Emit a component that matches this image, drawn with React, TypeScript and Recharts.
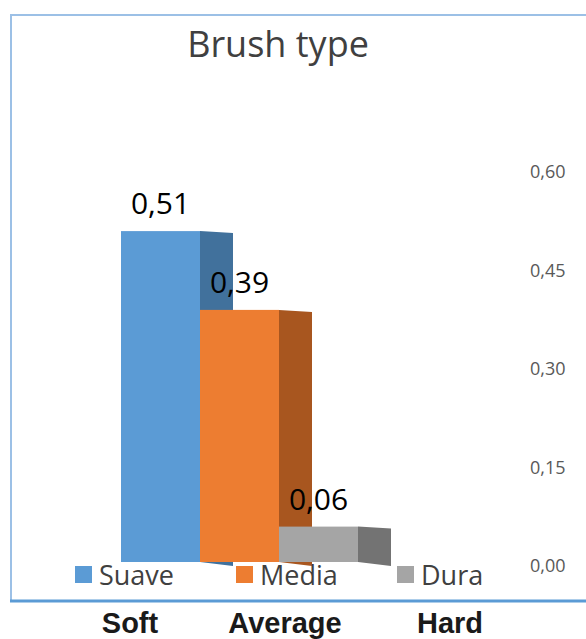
import { BarChart, Bar, XAxis, YAxis, Legend, LabelList } from 'recharts'

const categories = ['Brush type']
const series = ['Suave', 'Media', 'Dura']
const values = [0.51, 0.39, 0.06]
const yTicks = [0, 0.15, 0.3, 0.45, 0.6]
const captions = ['Soft', 'Average', 'Hard']

const FRONT = ['#5b9bd5', '#ed7d31', '#a5a5a5']
const SIDE = ['#41719c', '#a8561f', '#737373']
const CAPTION_X = [130, 285, 450]

const data = categories.map((name) => {
  const row: Record<string, string | number> = { name }
  series.forEach((s, i) => {
    row[s] = values[i]
  })
  return row
})

const comma = (v: number) => v.toFixed(2).replace('.', ',')

// front face plus a darker side face, for the 3D look
const box = (side: string) => (props: any) => {
  const { x, y, width, height, fill } = props
  const d = 33
  return (
    <g>
      <rect x={x} y={y} width={width} height={height - 4} fill={fill} />
      <path
        d={`M${x + width},${y}L${x + width + d},${y + 2}L${x + width + d},${y + height}L${x + width},${y + height - 4}Z`}
        fill={side}
      />
    </g>
  )
}

const renderLegend = () => (
  <div style={{ display: 'flex', fontFamily: 'Open Sans', fontSize: 27, color: '#404040' }}>
    {series.map((s, i) => (
      <div key={s} style={{ width: 161, display: 'flex', alignItems: 'center' }}>
        <span style={{ width: 17, height: 17, background: FRONT[i], marginRight: 7 }} />
        <span>{s}</span>
      </div>
    ))}
  </div>
)

const App = (): JSX.Element => {
  return (
    <div style={{ position: 'absolute', left: 0, top: 0, width: 586, height: 639, background: '#fff', overflow: 'hidden' }}>
      <svg width={586} height={639} style={{ position: 'absolute', left: 0, top: 0 }}>
        <rect x={11} y={15} width={600} height={586} fill='#fff' stroke='#9cc0e6' strokeWidth={2} />
        <line x1={10} x2={586} y1={601} y2={601} stroke='#5b9bd5' strokeWidth={3} />
        <text x={278} y={57} textAnchor='middle' fontFamily='Open Sans' fontSize={36} fill='#404040'>
          {categories[0]}
        </text>
        {captions.map((c, i) => (
          <text
            key={c}
            x={CAPTION_X[i]}
            y={633}
            textAnchor='middle'
            fontFamily='Liberation Sans, Arial'
            fontWeight='bold'
            fontSize={29}
            fill='#1a1a1a'
          >
            {c}
          </text>
        ))}
      </svg>
      <div style={{ position: 'absolute', left: 0, top: 0 }}>
        <BarChart
          width={586}
          height={639}
          data={data}
          margin={{ top: 172, right: 0, bottom: 73, left: 20 }}
          barGap={0}
          barSize={79}
        >
          <XAxis dataKey='name' hide padding={{ left: 0, right: 63 }} />
          <YAxis
            orientation='right'
            width={64}
            domain={[0, 0.6]}
            ticks={yTicks}
            tickFormatter={comma}
            axisLine={false}
            tickLine={false}
            tick={{ fill: '#595959', fontSize: 18, fontFamily: 'Open Sans' }}
          />
          <Legend
            verticalAlign='middle'
            align='center'
            layout='horizontal'
            wrapperStyle={{ top: 556, left: 75, width: 500 }}
            content={renderLegend}
          />
          {series.map((s, i) => (
            <Bar
              key={s}
              dataKey={s}
              fill={FRONT[i]}
              shape={box(SIDE[i])}
              isAnimationActive={false}
            >
              <LabelList
                dataKey={s}
                position='top'
                offset={17}
                formatter={(v: any) => comma(Number(v))}
                style={{ fontFamily: 'Open Sans', fontSize: 30, fill: '#000' }}
              />
            </Bar>
          ))}
        </BarChart>
      </div>
    </div>
  )
}

export default App
